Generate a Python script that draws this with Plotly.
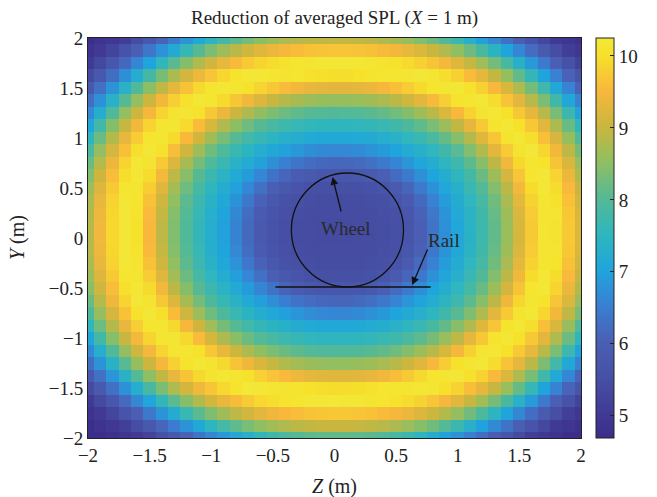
import numpy as np
import plotly.graph_objects as go

# ---- data ----
z_vals = [round(-2 + 0.1 * i, 3) for i in range(41)]        # Z (m), 41 columns
y_vals = [round(-2 + 0.125 * j, 4) for j in range(33)]      # Y (m), 33 rows

# SPL reduction read along normalised distance from the ring centre
ring_norm = [0.00, 0.20, 0.30, 0.38, 0.46, 0.55, 0.63, 0.71, 0.78, 0.85, 0.92,
             0.98, 1.04, 1.10, 1.16, 1.22, 1.28, 1.35, 1.45, 1.55, 1.65, 1.80, 2.20]
ring_spl = [5.40, 5.45, 5.55, 5.85, 6.35, 6.95, 7.35, 7.80, 8.30, 8.90, 9.60,
            10.10, 10.20, 9.85, 9.35, 8.75, 8.05, 7.05, 5.95, 5.05, 4.75, 4.70, 4.70]
ring_center = (0.03, 0.06)     # (Z, Y) of the ring pattern
ring_radius = (1.68, 1.62)     # radius of the bright ring along Z and Y
ring_shape = 2.15

cbar_ticks = [5, 6, 7, 8, 9, 10]
z_ticks = [-2, -1.5, -1, -0.5, 0, 0.5, 1, 1.5, 2]
y_ticks = [-2, -1.5, -1, -0.5, 0, 0.5, 1, 1.5, 2]

Zg, Yg = np.meshgrid(np.array(z_vals), np.array(y_vals))
nz = np.abs(Zg - ring_center[0]) / ring_radius[0]
ny = np.abs(Yg - ring_center[1]) / ring_radius[1]
norm = (nz ** ring_shape + ny ** ring_shape) ** (1 / ring_shape)
spl = np.interp(norm, ring_norm, ring_spl)

colorscale = [
    [0.00, "#3b2d8a"],
    [0.06, "#413a94"],
    [0.15, "#4650a5"],
    [0.24, "#4a5fb4"],
    [0.33, "#3a7fd2"],
    [0.42, "#1fa5dc"],
    [0.51, "#2fb6bd"],
    [0.60, "#55b995"],
    [0.69, "#8fbf62"],
    [0.78, "#cbb63e"],
    [0.87, "#f8b83c"],
    [0.96, "#f6e22b"],
    [1.00, "#f2e83a"],
]

font_family = "Liberation Serif, Times New Roman, serif"

fig = go.Figure()
fig.add_trace(go.Heatmap(
    x=z_vals, y=y_vals, z=spl,
    colorscale=colorscale, zmin=4.69, zmax=10.25,
    colorbar=dict(
        x=1.03, xanchor="left", xpad=0, ypad=0,
        y=0.5, yanchor="middle", len=1.0, lenmode="fraction",
        thickness=18, thicknessmode="pixels",
        outlinecolor="#222222", outlinewidth=1,
        tickvals=cbar_ticks, ticks="inside", ticklen=4, tickcolor="#222222",
        tickfont=dict(family=font_family, size=19, color="#222222"),
    ),
    showscale=True,
))

# wheel and rail sketch
fig.add_shape(type="circle", xref="x", yref="y",
              x0=-0.35, x1=0.56, y0=-0.49, y1=0.65,
              line=dict(color="#111111", width=1.3))
fig.add_shape(type="line", xref="x", yref="y",
              x0=-0.48, x1=0.78, y0=-0.49, y1=-0.49,
              line=dict(color="#111111", width=1.5))

fig.add_annotation(x=0.09, y=0.10, text="Wheel", showarrow=False,
                   font=dict(family=font_family, size=19, color="#2a2a2a"))
fig.add_annotation(x=-0.016, y=0.61, ax=0.057, ay=0.25, axref="x", ayref="y",
                   text="", showarrow=True, arrowhead=2, arrowsize=1.2,
                   arrowwidth=1.3, arrowcolor="#111111")
fig.add_annotation(x=0.89, y=-0.02, text="Rail", showarrow=False,
                   font=dict(family=font_family, size=19, color="#2a2a2a"))
fig.add_annotation(x=0.63, y=-0.47, ax=0.76, ay=-0.10, axref="x", ayref="y",
                   text="", showarrow=True, arrowhead=2, arrowsize=1.2,
                   arrowwidth=1.3, arrowcolor="#111111")

# axis titles
fig.add_annotation(xref="paper", yref="paper", x=0.5, y=-0.12,
                   xanchor="center", yanchor="middle", showarrow=False,
                   text="<i>Z</i> (m)",
                   font=dict(family=font_family, size=20, color="#222222"))
fig.add_annotation(xref="paper", yref="paper", x=-0.144, y=0.5,
                   xanchor="center", yanchor="middle", showarrow=False,
                   text="<i>Y</i> (m)", textangle=-90,
                   font=dict(family=font_family, size=20, color="#222222"))

fig.update_layout(
    width=657, height=497,
    margin=dict(l=88, r=76, t=38, b=59, autoexpand=False),
    paper_bgcolor="white", plot_bgcolor="white",
    font=dict(family=font_family, size=19, color="#222222"),
    title=dict(text="Reduction of averaged SPL (<i>X</i> = 1 m)",
               x=0.5, xref="paper", xanchor="center",
               y=0.965, yanchor="middle",
               font=dict(family=font_family, size=19, color="#222222")),
    xaxis=dict(range=[-2, 2], tickvals=z_ticks, ticks="", showgrid=False,
               zeroline=False, showline=True, linecolor="#222222", linewidth=1,
               mirror=True, tickfont=dict(size=19)),
    yaxis=dict(range=[-2, 2], tickvals=y_ticks, ticks="", showgrid=False,
               zeroline=False, showline=True, linecolor="#222222", linewidth=1,
               mirror=True, tickfont=dict(size=19)),
)

fig.write_html("out.html")
